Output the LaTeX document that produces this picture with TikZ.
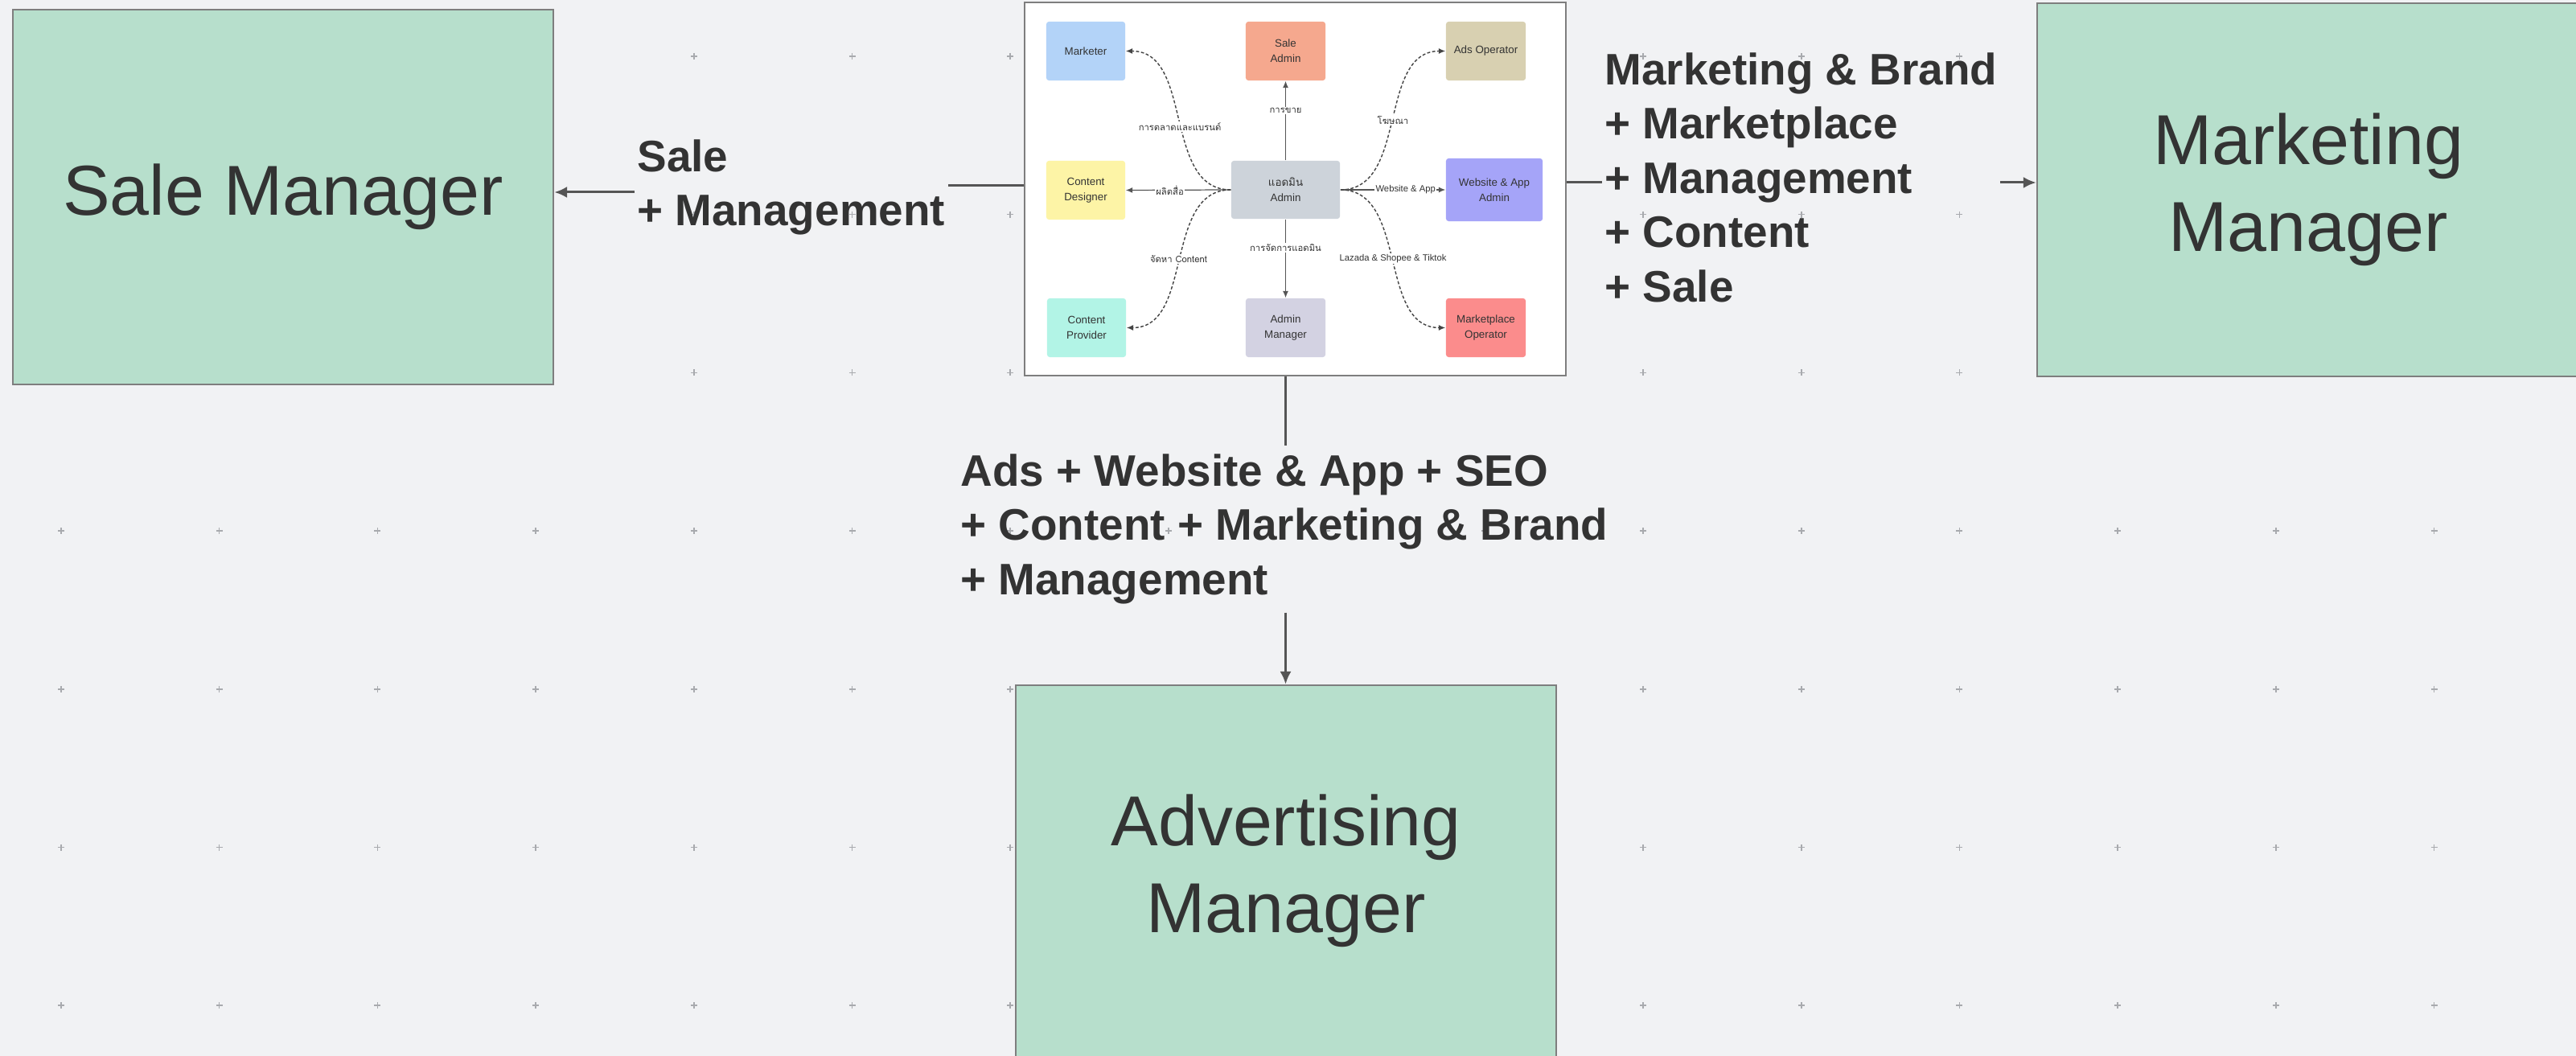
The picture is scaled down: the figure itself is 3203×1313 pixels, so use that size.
\documentclass[tikz,border=0pt]{standalone}
\usepackage{fontspec}
\setmainfont{Liberation Sans}
\newfontfamily\thaifont[Script=Thai]{Loma}
\usetikzlibrary{arrows.meta,calc}
\definecolor{bgc}{HTML}{F1F2F4}
\definecolor{dotc}{HTML}{A8AAAE}
\definecolor{greenbox}{HTML}{B7DFCC}
\definecolor{boxline}{HTML}{7E7E7E}
\definecolor{txt}{HTML}{333333}
\definecolor{arr}{HTML}{555555}
\definecolor{cmk}{HTML}{B3D3F8}
\definecolor{csa}{HTML}{F5A88E}
\definecolor{cao}{HTML}{D8D0B1}
\definecolor{ccd}{HTML}{FDF4A6}
\definecolor{cad}{HTML}{CDD3DA}
\definecolor{cwa}{HTML}{A5A4F8}
\definecolor{ccp}{HTML}{B2F4E6}
\definecolor{cam}{HTML}{D3D2E2}
\definecolor{cmp}{HTML}{FB8C8C}
\newcommand\myBigFont{\fontsize{25}{30.7}\selectfont}
\newcommand\myBoldFont{\fontsize{15.6}{19.2}\selectfont\bfseries}
\newcommand\myTinyFont{\fontsize{3.8}{5.4}\selectfont}
\newcommand\myLblFont{\fontsize{3.2}{4}\selectfont}
\tikzset{
  bigbox/.style={draw=boxline, line width=0.6pt, fill=greenbox, text=txt,
    font=\myBigFont, align=center, inner sep=0pt},
  panelbox/.style={draw=boxline, line width=0.6pt, fill=white, inner sep=0pt,
    minimum width=6.73cm, minimum height=4.64cm},
  flow/.style={text=txt, font=\myBoldFont, align=left, inner sep=0pt,
    outer xsep=1pt, outer ysep=3pt},
  mainline/.style={draw=arr, line width=0.85pt},
  mainarrow/.style={mainline, -{Latex[length=4.5pt,width=4pt]}},
  minibox/.style={rounded corners=0.9pt, inner sep=0pt, text=txt,
    font=\myTinyFont, align=center, minimum width=0.98cm, minimum height=0.73cm},
  sline/.style={draw=arr, line width=0.35pt, -{Latex[length=2.4pt,width=2pt]}},
  dline/.style={draw=arr!80!black, line width=0.4pt, dash pattern=on 1.1pt off 0.7pt,
    -{Latex[length=2.4pt,width=2pt]}},
  thlbl/.style={fill=white, inner sep=0.4pt, text=txt, font=\thaifont\myLblFont},
  enlbl/.style={fill=white, inner sep=0.4pt, text=txt, font=\myLblFont}
}
\begin{document}
\begin{tikzpicture}[x=0.01cm,y=-0.01cm]
\useasboundingbox (0,0) rectangle (3203,1313);
\clip (0,0) rectangle (3203,1313);
\fill[bgc] (0,0) rectangle (3203,1313);
% dot grid
\foreach \i in {0,...,15}{
  \foreach \j in {0,...,6}{
    \draw[dotc, line width=0.45pt] ({76+\i*196.7},{70+\j*196.7}) +(-4,0) -- +(4,0) +(0,-4) -- +(0,4);
  }
}
% big boxes
\node[bigbox, minimum width=6.72cm, minimum height=4.66cm] (sale) at (352,245) {Sale Manager};
\node[bigbox, minimum width=7.07cm, minimum height=4.64cm] (mm) at (2886.5,236) {};
\node[text=txt, font=\myBigFont, align=center, inner sep=0pt] (mmtext) at (2870,236) {Marketing\\Manager};
\node[bigbox, minimum width=6.72cm, minimum height=4.62cm] (adv) at (1599,1083) {Advertising\\Manager};
% central panel
\node[panelbox] (panel) at (1610.5,235) {};
% mini diagram
\node[minibox, fill=cmk] (mk) at (1350,63.5) {Marketer};
\node[minibox, fill=csa, minimum width=0.99cm] (sa) at (1598.5,63.5) {Sale\\Admin};
\node[minibox, fill=cao, minimum width=0.99cm] (ao) at (1847.5,63.5) {Ads Operator};
\node[minibox, fill=ccd] (cd) at (1350,236.5) {Content\\Designer};
\node[minibox, fill=cad, minimum width=1.35cm, minimum height=0.72cm] (ad) at (1598.5,236) {{\thaifont แอดมิน}\\Admin};
\node[minibox, fill=cwa, minimum width=1.2cm, minimum height=0.78cm] (wa) at (1858,236) {Website \& App\\Admin};
\node[minibox, fill=ccp] (cp) at (1351,407.5) {Content\\Provider};
\node[minibox, fill=cam, minimum width=0.99cm] (am) at (1598.5,407.5) {Admin\\Manager};
\node[minibox, fill=cmp, minimum width=0.99cm] (mp) at (1847.5,407.5) {Marketplace\\Operator};
% mini connectors
\draw[dline] (ad.west) to[out=180,in=0] node[thlbl, pos=0.47] {การตลาดและแบรนด์} (mk.east);
\draw[sline] (ad.north) -- node[thlbl, pos=0.63] {การขาย} (sa.south);
\draw[dline] (ad.east) to[out=0,in=180] node[thlbl, pos=0.5] {โฆษณา} (ao.west);
\draw[sline] (ad.west) -- node[thlbl, pos=0.58] {ผลิตสื่อ} (cd.east);
\draw[sline] (ad.east) -- node[enlbl, pos=0.62] {Website \& App} (wa.west);
\draw[dline] (ad.west) to[out=180,in=0] node[thlbl, pos=0.5] {จัดหา Content} (cp.east);
\draw[sline] (ad.south) -- node[thlbl, pos=0.36] {การจัดการแอดมิน} (am.north);
\draw[dline] (ad.east) to[out=0,in=180] node[enlbl, pos=0.5] {Lazada \& Shopee \& Tiktok} (mp.west);
% flow labels
\node[flow, anchor=north west] (lblS) at (789,163) {Sale\\+ Management};
\node[flow, anchor=north west] (lblM) at (1992,55) {Marketing \& Brand\\+ Marketplace\\+ Management\\+ Content\\+ Sale};
\node[flow, anchor=north west] (lblA) at (1191,554) {Ads + Website \& App + SEO\\+ Content + Marketing \& Brand\\+ Management};
% main connectors
\coordinate (yS1) at (0,231);
\coordinate (yS2) at (0,239);
\coordinate (yM) at (0,227);
\coordinate (xA) at (1598.5,0);
\draw[mainline] (panel.west |- yS1) -- (lblS.east |- yS1);
\draw[mainarrow] (lblS.west |- yS2) -- (sale.east |- yS2);
\draw[mainline] (panel.east |- yM) -- (lblM.west |- yM);
\draw[mainarrow] (lblM.east |- yM) -- (mm.west |- yM);
\draw[mainline] (panel.south -| xA) -- (lblA.north -| xA);
\draw[mainarrow] (lblA.south -| xA) -- (adv.north -| xA);
\end{tikzpicture}
\end{document}
